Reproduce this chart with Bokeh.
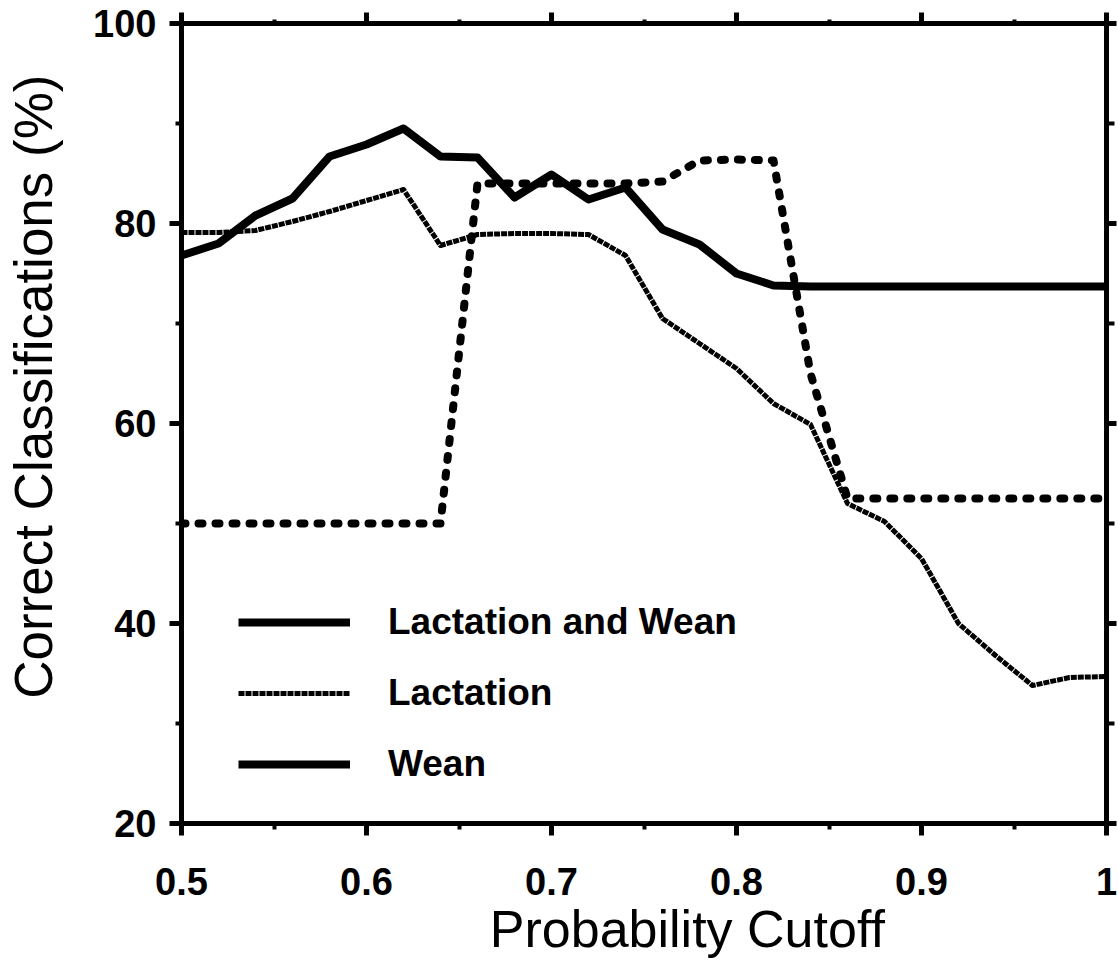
from bokeh.plotting import figure
from bokeh.models import (LinearAxis, FixedTicker, Legend, LegendItem, Range1d,
                          ColumnDataSource, CustomLabelingPolicy)
from bokeh.embed import file_html
from bokeh.resources import INLINE

# ---- data ----
cutoff = [0.50, 0.52, 0.54, 0.56, 0.58, 0.60, 0.62, 0.64, 0.66, 0.68, 0.70,
          0.72, 0.74, 0.76, 0.78, 0.80, 0.82, 0.84, 0.86, 0.88, 0.90, 0.92,
          0.94, 0.96, 0.98, 1.00]
lact_wean = [76.8, 78.0, 80.8, 82.5, 86.7, 87.9, 89.5, 86.7, 86.6, 82.6, 84.9,
             82.4, 83.6, 79.4, 77.9, 75.0, 73.8, 73.7, 73.7, 73.7, 73.7, 73.7,
             73.7, 73.7, 73.7, 73.7]
lactation = [79.1, 79.1, 79.3, 80.2, 81.2, 82.3, 83.4, 77.8, 78.9, 79.0, 79.0,
             78.9, 76.8, 70.5, 68.0, 65.5, 62.0, 59.9, 52.0, 50.2, 46.5, 40.0,
             36.8, 33.8, 34.6, 34.7]
wean = [50.0, 50.0, 50.0, 50.0, 50.0, 50.0, 50.0, 50.0, 84.0, 84.0, 84.0,
        84.0, 84.0, 84.2, 86.3, 86.4, 86.3, 65.0, 52.5, 52.5, 52.5, 52.5,
        52.5, 52.5, 52.5, 52.5]

series_names = ["Lactation and Wean", "Lactation", "Wean"]

x_ticks = [0.5, 0.6, 0.7, 0.8, 0.9, 1.0]
x_tick_labels = ["0.5", "0.6", "0.7", "0.8", "0.9", "1"]
x_minor = [0.55, 0.65, 0.75, 0.85, 0.95]
y_ticks = [20, 40, 60, 80, 100]
y_tick_labels = ["20", "40", "60", "80", "100"]
y_minor = [30, 50, 70, 90]

x_title = "Probability Cutoff"
y_title = "Correct Classifications (%)"

FONT = "Liberation Sans"
NBSP = "\u00a0"   # leading padding: shifts the centred titles as in the reference

src = ColumnDataSource(dict(x=cutoff, lw=lact_wean, la=lactation, we=wean))
key_src = ColumnDataSource(dict(x=[float("nan")], y=[float("nan")]))

p = figure(width=1118, height=961, output_backend="svg", toolbar_location=None,
           x_range=Range1d(0.5, 1.0), y_range=Range1d(20, 100),
           min_border_left=181, min_border_right=12, min_border_top=23,
           min_border_bottom=138)
p.grid.visible = False
p.outline_line_color = "black"
p.outline_line_width = 5
p.background_fill_color = "white"
p.border_fill_color = "white"

no_labels = CustomLabelingPolicy(code="""
try { for (const i of Array.from(indices)) { indices.unset(i) } } catch (e) {}
return indices
""")

def style_axis(ax, labels=True):
    ax.axis_line_width = 5
    ax.axis_line_color = "black"
    ax.major_tick_line_width = 5
    ax.minor_tick_line_width = 4
    ax.major_tick_in = 0
    ax.minor_tick_in = 0
    ax.major_tick_out = 12
    ax.minor_tick_out = 6
    ax.major_label_text_font = FONT
    ax.major_label_text_font_style = "bold"
    ax.major_label_text_font_size = "38px" if labels else "0px"
    ax.major_label_text_color = "black"
    ax.axis_label_text_font = FONT
    ax.axis_label_text_font_style = "normal"
    ax.axis_label_text_color = "black"
    if not labels:
        ax.major_label_policy = no_labels

xa = p.xaxis[0]
xa.ticker = FixedTicker(ticks=x_ticks, minor_ticks=x_minor)
xa.major_label_overrides = {t: l for t, l in zip(x_ticks, x_tick_labels)}
style_axis(xa)
xa.major_label_standoff = 32
xa.axis_label = NBSP * 6 + x_title
xa.axis_label_text_font_size = "52px"
xa.axis_label_standoff = 2

ya = p.yaxis[0]
ya.ticker = FixedTicker(ticks=y_ticks, minor_ticks=y_minor)
ya.major_label_overrides = {t: l for t, l in zip(y_ticks, y_tick_labels)}
style_axis(ya)
ya.major_label_standoff = 13
ya.axis_label = NBSP * 5 + y_title
ya.axis_label_text_font_size = "53px"
ya.axis_label_standoff = 27

top = LinearAxis(ticker=FixedTicker(ticks=x_ticks, minor_ticks=x_minor))
style_axis(top, labels=False)
top.major_label_standoff = 0
top.major_tick_out = 11
top.minor_tick_out = 4
p.add_layout(top, "above")

right = LinearAxis(ticker=FixedTicker(ticks=y_ticks, minor_ticks=y_minor))
style_axis(right, labels=False)
right.major_label_standoff = 0
right.major_tick_out = 10
right.minor_tick_out = 8
p.add_layout(right, "right")

r_we = p.line("x", "we", source=src, line_color="black", line_width=8,
              line_dash="4 13", line_cap="round", line_join="round")
r_la = p.line("x", "la", source=src, line_color="black", line_width=5,
              line_dash="6 1", line_join="round")
r_lw = p.line("x", "lw", source=src, line_color="black", line_width=8,
              line_join="round")
# legend key for "Wean" (the reference legend draws it as a solid bar)
r_we_key = p.line("x", "y", source=key_src, line_color="black", line_width=8)

legend = Legend(items=[LegendItem(label=series_names[0], renderers=[r_lw]),
                       LegendItem(label=series_names[1], renderers=[r_la]),
                       LegendItem(label=series_names[2], renderers=[r_we_key])],
                location=(57, 38), orientation="vertical",
                glyph_width=112, glyph_height=40, label_height=40, spacing=29,
                label_standoff=38, padding=0, margin=0,
                border_line_alpha=0, background_fill_alpha=0,
                label_text_font=FONT, label_text_font_style="bold",
                label_text_font_size="37px", label_text_color="black")
p.add_layout(legend, "center")

open("out.html", "w").write(file_html(p, INLINE))
